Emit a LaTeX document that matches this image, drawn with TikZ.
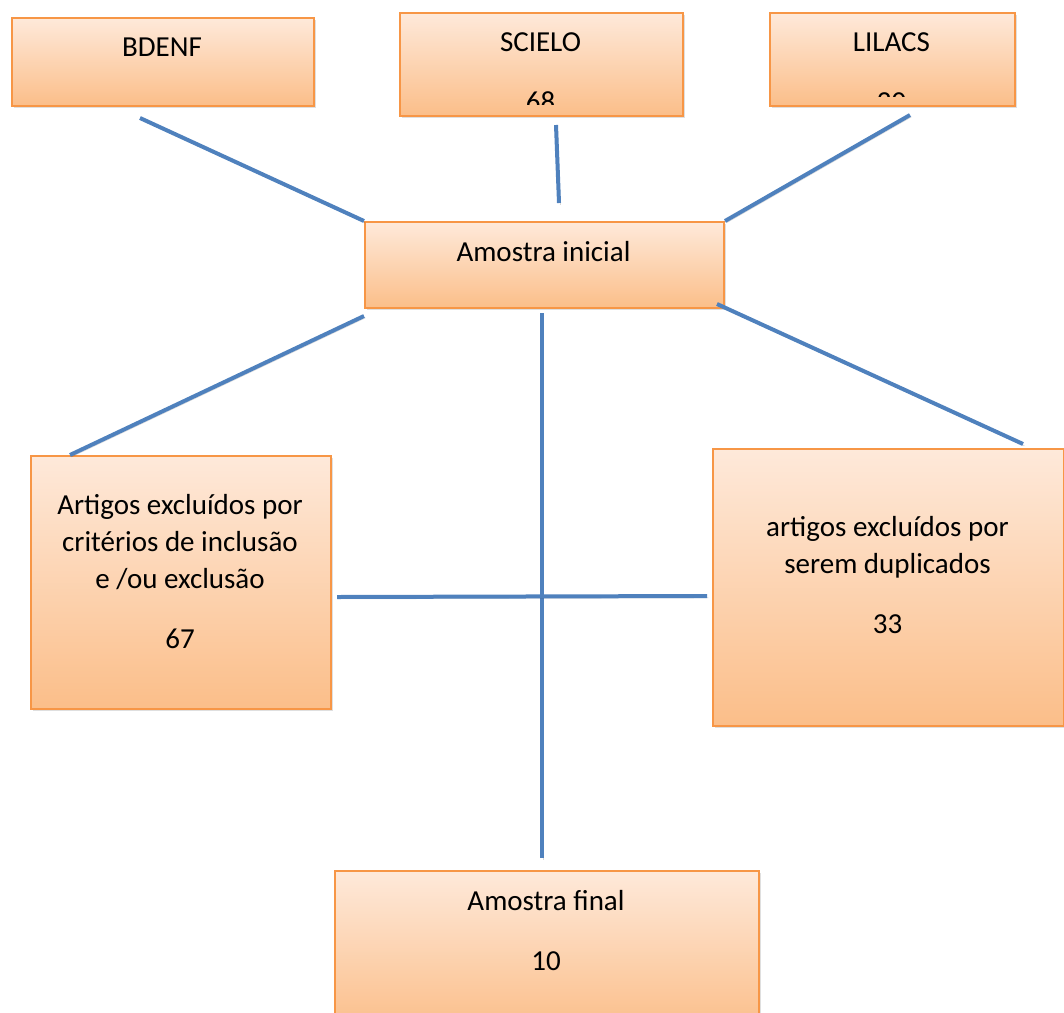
\documentclass[tikz,border=0pt]{standalone}
\usepackage{fontspec}
\setmainfont{Carlito}
\usetikzlibrary{positioning,shadows}

\definecolor{boxtop}{HTML}{FEE9DA}
\definecolor{boxbot}{HTML}{FBBE89}
\definecolor{boxline}{HTML}{F79646}
\definecolor{linkblue}{HTML}{4F81BD}

\begin{document}
\begin{tikzpicture}[
    x=0.5pt, y=-0.5pt,
    box/.style={
        rectangle,
        draw=boxline,
        line width=1pt,
        top color=boxtop,
        bottom color=boxbot,
        anchor=north west,
        drop shadow={shadow xshift=1pt, shadow yshift=-1.2pt, opacity=0.25}
    },
    txt/.style={
        anchor=base,
        align=center,
        inner sep=0pt,
        font=\fontsize{14.5pt}{18.5pt}\selectfont
    },
    link/.style={
        draw=linkblue,
        line width=2pt,
        preaction={draw=black, opacity=0.15,
            transform canvas={shift={(0.7pt,-0.9pt)}}}
    }
]
\useasboundingbox (0,0) rectangle (1064,1012);

% bases (text placed at its last baseline)
\node[box, minimum width=151pt, minimum height=44pt] (bdenf) at (11,17) {};
\node[box, minimum width=141.5pt, minimum height=51.5pt] (scielo) at (399,12) {};
\node[box, minimum width=122.5pt, minimum height=46.5pt] (lilacs) at (769,12) {};

\node[txt] (bdenf-t) at (162,56) {BDENF};
\begin{scope}
    \clip (399,12) rectangle (682,104);
    \node[txt] (scielo-t) at (540.5,111) {SCIELO\\[11.5pt]68};
\end{scope}
\begin{scope}
    \clip (769,12) rectangle (1014,96);
    \node[txt] (lilacs-t) at (891.5,111) {LILACS\\[11.5pt]20};
\end{scope}

% amostra
\node[box, minimum width=179.5pt, minimum height=43pt] (inicial) at (364,221) {};
\node[txt] (inicial-t) at (543.5,261) {Amostra inicial};

\node[box, minimum width=150pt, minimum height=126.5pt] (excl) at (30,455) {};
\node[txt] (excl-t) at (180,648)
{Artigos excluídos por\\critérios de inclusão\\e /ou exclusão\\[11.5pt]67};

\node[box, minimum width=175.5pt, minimum height=138.5pt] (dupl) at (712,448) {};
\node[txt] (dupl-t) at (887.5,633)
{artigos excluídos por\\serem duplicados\\[11.5pt]33};

\node[box, minimum width=212pt, minimum height=80pt] (final) at (334,870) {};
\node[txt] (final-t) at (546,970) {Amostra final\\[11.5pt]10};

% line ends
\coordinate (bdenf-out) at (140,118);
\coordinate (scielo-out) at (556,125);
\coordinate (scielo-in) at (559,203);
\coordinate (lilacs-out) at (910,115);
\coordinate (ini-sw) at (364,316);
\coordinate (ini-s) at (542,313);
\coordinate (ini-se) at (717,304);
\coordinate (excl-in) at (70,455);
\coordinate (dupl-in) at (1023,444);
\coordinate (final-in) at (542,858);
\coordinate (mid-l) at (337,597);
\coordinate (mid-r) at (707,596);

\draw[link] (bdenf-out) -- (inicial.north west);
\draw[link] (scielo-out) -- (scielo-in);
\draw[link] (lilacs-out) -- (inicial.north east);
\draw[link] (ini-sw) -- (excl-in);
\draw[link] (ini-se) -- (dupl-in);
\draw[link] (ini-s) -- (final-in);
\draw[link] (mid-l) -- (mid-r);

\end{tikzpicture}
\end{document}
